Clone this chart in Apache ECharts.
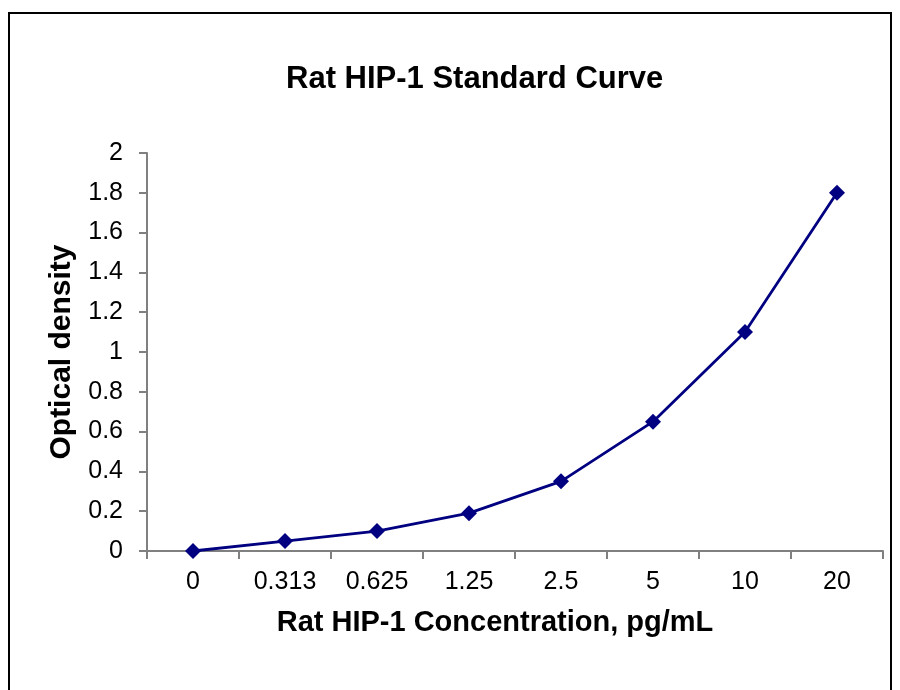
<!DOCTYPE html>
<html>
<head>
<meta charset="utf-8">
<script src="https://cdn.jsdelivr.net/npm/echarts@6/dist/echarts.min.js"></script>
<style>
  html, body { margin: 0; padding: 0; background: #fff; }
  #chart { width: 900px; height: 690px; }
</style>
</head>
<body>
<div id="chart"></div>
<script>
// concentration steps (pg/mL) and measured OD
const concentrations = ['0', '0.313', '0.625', '1.25', '2.5', '5', '10', '20'];
const opticalDensity = [0, 0.05, 0.1, 0.19, 0.35, 0.65, 1.1, 1.8];
const yTicks = { min: 0, max: 2, step: 0.2 };

const font = 'Liberation Sans, Arial, sans-serif';
const axisGrey = '#808080';

const chart = echarts.init(document.getElementById('chart'));
chart.setOption({
    backgroundColor: '#fff',
    animation: false,
    title: {
        text: 'Rat HIP-1 Standard Curve',
        left: 281,
        top: 59,
        textStyle: { fontFamily: font, fontSize: 31, fontWeight: 'bold', color: '#000' }
    },
    // outer frame of the chart area
    graphic: [{
        type: 'rect',
        shape: { x: 9, y: 13, width: 882, height: 700 },
        style: { fill: 'none', stroke: '#000', lineWidth: 2 },
        silent: true
    }],
    grid: { left: 147, right: 17, top: 153, bottom: 139 },
    xAxis: {
        type: 'category',
        data: concentrations,
        boundaryGap: true,
        name: 'Rat HIP-1 Concentration, pg/mL',
        nameLocation: 'middle',
        nameGap: 57,
        nameTextStyle: { fontFamily: font, fontSize: 29, fontWeight: 'bold', color: '#000', padding: [0, 40, 0, 0] },
        axisLine: { lineStyle: { color: axisGrey, width: 2 } },
        axisTick: { show: true, length: 8, alignWithLabel: false, lineStyle: { color: axisGrey, width: 2 } },
        axisLabel: { fontFamily: font, fontSize: 25, color: '#000', margin: 19 },
        splitLine: { show: false }
    },
    yAxis: {
        type: 'value',
        min: yTicks.min,
        max: yTicks.max,
        interval: yTicks.step,
        name: 'Optical density',
        nameLocation: 'middle',
        nameRotate: 90,
        nameGap: 70,
        nameTextStyle: { fontFamily: font, fontSize: 30, fontWeight: 'bold', color: '#000' },
        axisLine: { show: true, lineStyle: { color: axisGrey, width: 2 } },
        axisTick: { show: true, length: 8, lineStyle: { color: axisGrey, width: 2 } },
        axisLabel: { fontFamily: font, fontSize: 25, color: '#000', margin: 24 },
        splitLine: { show: false }
    },
    series: [{
        type: 'line',
        data: opticalDensity,
        symbol: 'diamond',
        symbolSize: 16,
        lineStyle: { color: '#000080', width: 2.8 },
        itemStyle: { color: '#000080' },
        silent: true
    }]
});
</script>
</body>
</html>
